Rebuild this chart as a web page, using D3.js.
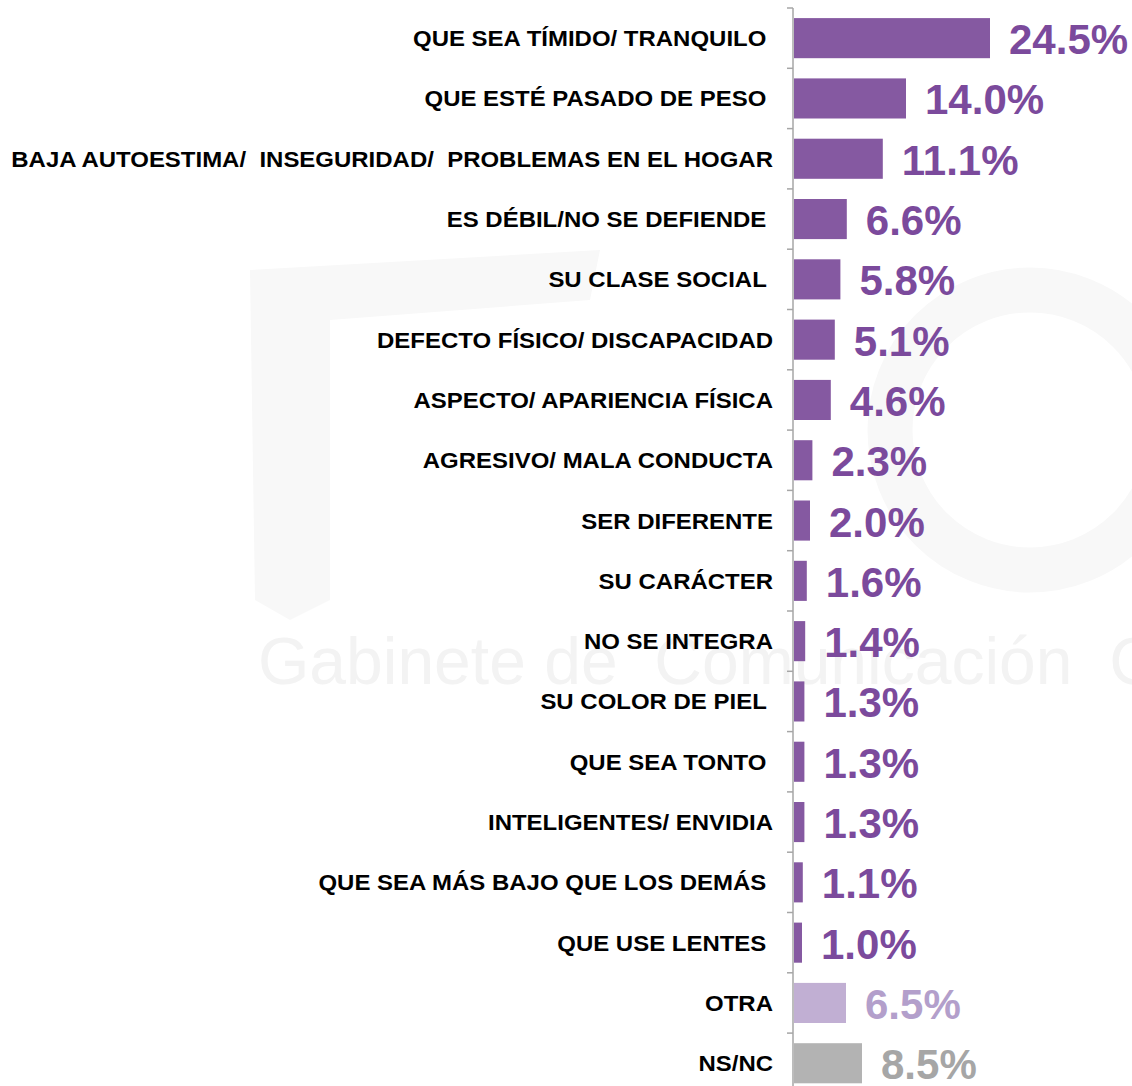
<!DOCTYPE html>
<html>
<head>
<meta charset="utf-8">
<script src="https://cdn.jsdelivr.net/npm/d3@7"></script>
<style>
  body { margin: 0; background: #fff; }
  svg text { font-family: "Liberation Sans", Arial, sans-serif; font-weight: bold; white-space: pre; }
</style>
</head>
<body>
<div id="chart"></div>
<script>
// categories, top to bottom (trailing spaces as in the original labels)
const categories = [
  "QUE SEA TÍMIDO/ TRANQUILO ",
  "QUE ESTÉ PASADO DE PESO ",
  "BAJA AUTOESTIMA/  INSEGURIDAD/  PROBLEMAS EN EL HOGAR",
  "ES DÉBIL/NO SE DEFIENDE ",
  "SU CLASE SOCIAL ",
  "DEFECTO FÍSICO/ DISCAPACIDAD",
  "ASPECTO/ APARIENCIA FÍSICA",
  "AGRESIVO/ MALA CONDUCTA",
  "SER DIFERENTE",
  "SU CARÁCTER",
  "NO SE INTEGRA",
  "SU COLOR DE PIEL ",
  "QUE SEA TONTO ",
  "INTELIGENTES/ ENVIDIA",
  "QUE SEA MÁS BAJO QUE LOS DEMÁS ",
  "QUE USE LENTES ",
  "OTRA",
  "NS/NC"
];
const values = [24.5, 14.0, 11.1, 6.6, 5.8, 5.1, 4.6, 2.3, 2.0, 1.6, 1.4, 1.3, 1.3, 1.3, 1.1, 1.0, 6.5, 8.5];
// bar kind: main purple, "otra" light purple, "nsnc" gray
const kinds = ["main","main","main","main","main","main","main","main","main","main","main","main","main","main","main","main","otra","nsnc"];

const width = 1132, height = 1086;
const axisX = 793;
const barColor = {main: "#8559a1", otra: "#c1afd3", nsnc: "#b3b3b3"};
const textColor = {main: "#7b4a9c", otra: "#b39fcb", nsnc: "#a6a6a6"};
const format = d3.format(".1f");

const svg = d3.select("#chart").append("svg")
    .attr("width", width)
    .attr("height", height);

// faint watermark behind the chart
const wm = svg.append("g").attr("class", "watermark");
wm.append("path")
    .attr("d", "M250,270 L600,250 L590,300 L330,320 L330,600 L290,620 L255,600 Z")
    .attr("fill", "#f8f8f8");
wm.append("circle")
    .attr("cx", 1030).attr("cy", 430).attr("r", 140)
    .attr("fill", "none").attr("stroke", "#f8f8f8").attr("stroke-width", 45);
wm.append("text")
    .attr("x", 258).attr("y", 684)
    .attr("fill", "#f3f3f3")
    .style("font-weight", "normal")
    .style("font-size", "66px")
    .text("Gabinete de  Comunicación  C");

const data = categories.map((c, i) => ({label: c, value: values[i], kind: kinds[i]}));

const x = d3.scaleLinear()
    .domain([0, 24.5])
    .range([axisX + 1, 990]);
const y = d3.scaleBand()
    .domain(categories)
    .range([8, 8 + categories.length * 60.3])
    .paddingInner(0.335)
    .paddingOuter(0.1675);

// bars
svg.selectAll(".bar")
    .data(data)
    .enter().append("rect")
    .attr("class", "bar")
    .attr("x", x(0))
    .attr("y", d => y(d.label))
    .attr("width", d => x(d.value) - x(0))
    .attr("height", y.bandwidth())
    .attr("fill", d => barColor[d.kind]);

// axis line with ticks between categories
const axis = svg.append("g").attr("class", "axis");
axis.append("line")
    .attr("x1", axisX).attr("x2", axisX)
    .attr("y1", 8).attr("y2", height)
    .attr("stroke", "#a6a6a6").attr("stroke-width", 1.5);
axis.selectAll(".tick")
    .data(d3.range(categories.length))
    .enter().append("line")
    .attr("class", "tick")
    .attr("x1", axisX - 6).attr("x2", axisX)
    .attr("y1", i => 8 + i * y.step())
    .attr("y2", i => 8 + i * y.step())
    .attr("stroke", "#a6a6a6").attr("stroke-width", 1.5);

// category labels (the original font is a bit wider, so stretch horizontally)
svg.selectAll(".label")
    .data(data)
    .enter().append("text")
    .attr("class", "label")
    .attr("transform", d => `translate(773,${y(d.label) + y.bandwidth() / 2 + 8}) scale(1.09,1)`)
    .attr("text-anchor", "end")
    .attr("fill", "#000")
    .style("font-size", "22px")
    .text(d => d.label);

// value labels
svg.selectAll(".value")
    .data(data)
    .enter().append("text")
    .attr("class", "value")
    .attr("x", d => x(d.value) + 19)
    .attr("y", d => y(d.label) + y.bandwidth() / 2 + 16)
    .attr("fill", d => textColor[d.kind])
    .style("font-size", "42px")
    .text(d => format(d.value) + "%");
</script>
</body>
</html>
